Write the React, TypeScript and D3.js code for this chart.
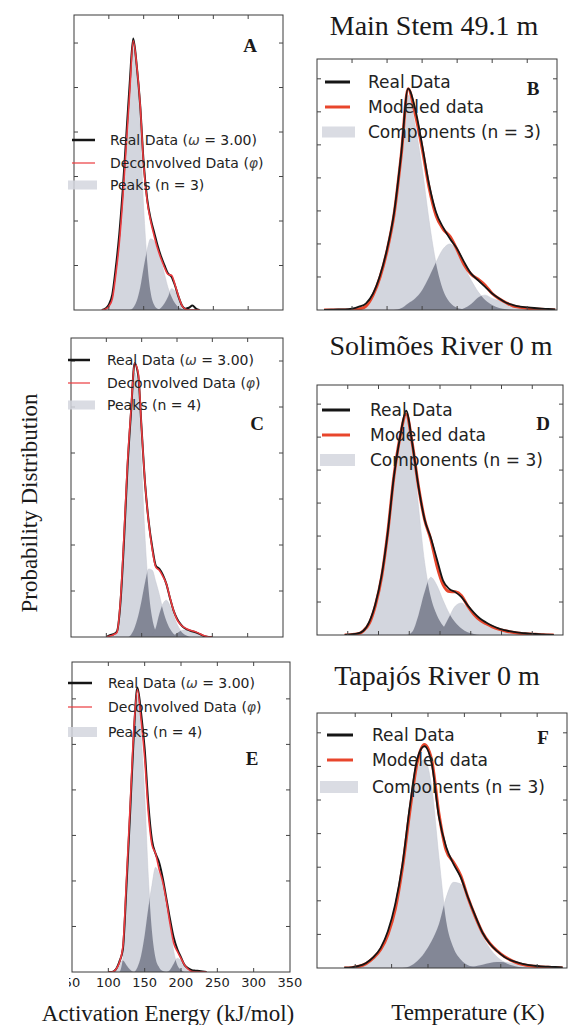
import React from "react";
import * as d3 from "d3";

// ---------------- Panel A : Main Stem 49.1 m, activation energy ----------------
const energyA = [90, 95, 100, 105, 110, 115, 120, 125, 130, 135, 140, 145, 150, 155, 160, 165, 170, 175, 180, 185, 190, 195, 200, 205, 210, 215, 220, 225, 230];
const realA = [0, 0.03, 0.12, 0.35, 0.95, 1.7, 2.7, 3.9, 5.1, 6.1, 5.5, 4.6, 3.3, 2.5, 2.05, 1.75, 1.45, 1.2, 1.0, 0.82, 0.75, 0.55, 0.3, 0.1, 0.03, 0.05, 0.1, 0.03, 0];
const peakA1 = [0, 0.02, 0.08, 0.25, 0.8, 1.5, 2.5, 3.7, 4.9, 6.0, 5.3, 4.1, 2.3, 1.1, 0.4, 0.12, 0.03, 0, 0, 0, 0, 0, 0, 0, 0, 0, 0, 0, 0];
const peakA2 = [0, 0, 0, 0, 0, 0, 0, 0, 0, 0.05, 0.2, 0.5, 0.95, 1.35, 1.6, 1.55, 1.35, 1.1, 0.8, 0.5, 0.3, 0.15, 0.06, 0.02, 0, 0, 0, 0, 0];
const peakA3 = [0, 0, 0, 0, 0, 0, 0, 0, 0, 0, 0, 0, 0, 0, 0, 0, 0, 0.05, 0.15, 0.3, 0.48, 0.42, 0.25, 0.08, 0.02, 0, 0, 0, 0];

// ---------------- Panel C : Solimões River 0 m, activation energy ----------------
const energyC = [100, 105, 110, 115, 120, 125, 130, 135, 140, 145, 150, 155, 160, 165, 170, 175, 180, 185, 190, 195, 200, 205, 210, 215, 220, 225, 230, 235, 240, 245, 250];
const realC = [0, 0.04, 0.06, 0.12, 0.75, 2.1, 3.7, 4.9, 5.95, 5.7, 4.5, 3.3, 2.5, 1.95, 1.55, 1.48, 1.35, 1.15, 0.85, 0.58, 0.4, 0.28, 0.2, 0.16, 0.13, 0.11, 0.08, 0.04, 0.01, 0, 0];
const peakC1 = [0, 0.02, 0.05, 0.1, 0.8, 2.2, 3.8, 4.9, 5.75, 5.3, 3.7, 2.1, 1.0, 0.4, 0.12, 0.03, 0, 0, 0, 0, 0, 0, 0, 0, 0, 0, 0, 0, 0, 0, 0];
const peakC2 = [0, 0, 0, 0, 0, 0, 0, 0.05, 0.2, 0.45, 0.8, 1.2, 1.48, 1.45, 1.2, 0.92, 0.6, 0.35, 0.18, 0.07, 0.02, 0, 0, 0, 0, 0, 0, 0, 0, 0, 0];
const peakC3 = [0, 0, 0, 0, 0, 0, 0, 0, 0, 0, 0, 0, 0, 0.05, 0.2, 0.5, 0.72, 0.8, 0.68, 0.48, 0.28, 0.14, 0.06, 0.02, 0, 0, 0, 0, 0, 0, 0];
const peakC4 = [0, 0, 0, 0, 0, 0, 0, 0, 0, 0, 0, 0, 0, 0, 0, 0, 0, 0, 0, 0.03, 0.08, 0.13, 0.15, 0.15, 0.14, 0.12, 0.09, 0.05, 0.02, 0, 0];

// ---------------- Panel E : Tapajós River 0 m, activation energy ----------------
const energyE = [100, 105, 110, 115, 120, 125, 130, 135, 140, 145, 150, 155, 160, 165, 170, 175, 180, 185, 190, 195, 200, 205, 210, 215, 220, 225, 230, 235];
const realE = [0, 0, 0.05, 0.22, 0.5, 1.9, 3.5, 5.2, 6.25, 5.7, 4.9, 3.7, 2.9, 2.6, 2.4, 2.05, 1.6, 1.15, 0.75, 0.5, 0.32, 0.15, 0.08, 0.04, 0.03, 0.02, 0.01, 0];
const peakE1 = [0, 0, 0, 0, 0.3, 1.9, 3.6, 5.3, 6.1, 5.2, 3.9, 2.1, 0.9, 0.3, 0.1, 0.02, 0, 0, 0, 0, 0, 0, 0, 0, 0, 0, 0, 0];
const peakE2 = [0, 0, 0, 0, 0, 0, 0, 0, 0.1, 0.35, 0.8, 1.4, 1.9, 2.3, 2.15, 1.95, 1.55, 1.0, 0.45, 0.15, 0.05, 0, 0, 0, 0, 0, 0, 0];
const peakE3 = [0, 0, 0, 0, 0, 0, 0, 0, 0, 0, 0, 0, 0, 0, 0, 0, 0, 0.05, 0.18, 0.3, 0.25, 0.15, 0.06, 0.01, 0, 0, 0, 0];
const peakE4 = [0, 0, 0.05, 0.2, 0.25, 0.15, 0.05, 0, 0, 0, 0, 0, 0, 0, 0, 0, 0, 0, 0, 0, 0, 0, 0, 0, 0, 0, 0, 0];

// ---------------- Panel B : Main Stem 49.1 m, temperature ----------------
const tempB = [420, 440, 460, 480, 500, 520, 540, 560, 580, 600, 620, 640, 660, 680, 700, 720, 740, 760, 780, 800, 820, 840, 860, 880, 900, 920, 940, 960, 980, 1000, 1020, 1040, 1060, 1080];
const realB = [0, 0.01, 0.02, 0.02, 0.04, 0.1, 0.2, 0.5, 1.05, 1.85, 2.95, 4.7, 6.7, 6.1, 5.0, 3.8, 2.95, 2.5, 2.15, 1.85, 1.45, 1.1, 0.9, 0.7, 0.5, 0.35, 0.22, 0.15, 0.1, 0.08, 0.06, 0.04, 0.03, 0.02];
const compB1 = [0, 0, 0, 0, 0.01, 0.03, 0.12, 0.45, 1.0, 1.8, 2.9, 4.6, 6.5, 5.6, 4.3, 2.7, 1.4, 0.6, 0.22, 0.07, 0.02, 0, 0, 0, 0, 0, 0, 0, 0, 0, 0, 0, 0, 0];
const compB2 = [0, 0, 0, 0, 0, 0, 0, 0, 0, 0, 0, 0.05, 0.2, 0.35, 0.6, 1.0, 1.45, 1.85, 2.0, 1.75, 1.3, 0.9, 0.55, 0.3, 0.15, 0.06, 0.02, 0, 0, 0, 0, 0, 0, 0];
const compB3 = [0, 0, 0, 0, 0, 0, 0, 0, 0, 0, 0, 0, 0, 0, 0, 0, 0, 0, 0, 0, 0.05, 0.18, 0.38, 0.45, 0.35, 0.28, 0.2, 0.12, 0.08, 0.05, 0.03, 0.02, 0.01, 0];

// ---------------- Panel D : Solimões River 0 m, temperature ----------------
const tempD = [390, 410, 430, 450, 470, 490, 510, 530, 550, 570, 590, 610, 630, 650, 670, 690, 710, 730, 750, 770, 790, 810, 830, 850, 870, 890, 910, 930, 950, 970, 990, 1010, 1030, 1050, 1070];
const realD = [0, 0.02, 0.04, 0.12, 0.4, 0.95, 1.8, 3.1, 4.8, 6.0, 6.8, 5.8, 4.5, 3.5, 2.95, 2.3, 1.65, 1.4, 1.3, 1.15, 0.9, 0.68, 0.5, 0.38, 0.28, 0.2, 0.15, 0.11, 0.08, 0.06, 0.04, 0.03, 0.02, 0.01, 0];
const compD1 = [0, 0.01, 0.03, 0.12, 0.35, 0.9, 1.75, 3.1, 4.8, 6.0, 6.7, 5.7, 3.9, 2.2, 1.15, 0.6, 0.28, 0.12, 0.05, 0.02, 0, 0, 0, 0, 0, 0, 0, 0, 0, 0, 0, 0, 0, 0, 0];
const compD2 = [0, 0, 0, 0, 0, 0, 0, 0, 0, 0, 0, 0.1, 0.6, 1.3, 1.75, 1.5, 1.05, 0.65, 0.38, 0.2, 0.08, 0.03, 0, 0, 0, 0, 0, 0, 0, 0, 0, 0, 0, 0, 0];
const compD3 = [0, 0, 0, 0, 0, 0, 0, 0, 0, 0, 0, 0, 0, 0, 0, 0, 0.2, 0.55, 0.88, 0.97, 0.8, 0.6, 0.45, 0.34, 0.25, 0.18, 0.13, 0.09, 0.06, 0.04, 0.03, 0.02, 0.01, 0, 0];

// ---------------- Panel F : Tapajós River 0 m, temperature ----------------
const tempF = [470, 490, 510, 530, 550, 570, 590, 610, 630, 650, 670, 690, 710, 730, 750, 770, 790, 810, 830, 850, 870, 890, 910, 930, 950, 970, 990, 1010, 1030, 1050, 1070];
const realF = [0.01, 0.02, 0.06, 0.15, 0.32, 0.6, 1.1, 1.9, 3.1, 4.8, 6.2, 6.6, 6.1, 4.5, 3.6, 3.1, 2.7, 2.1, 1.55, 1.05, 0.72, 0.5, 0.33, 0.22, 0.15, 0.1, 0.07, 0.05, 0.04, 0.03, 0.02];
const compF1 = [0, 0.01, 0.05, 0.13, 0.3, 0.55, 1.0, 1.75, 3.0, 4.6, 5.9, 6.2, 5.4, 3.3, 1.4, 0.6, 0.25, 0.08, 0.03, 0, 0, 0, 0, 0, 0, 0, 0, 0, 0, 0, 0];
const compF2 = [0, 0, 0, 0, 0, 0, 0, 0, 0, 0.05, 0.2, 0.45, 0.8, 1.3, 2.1, 2.55, 2.5, 2.0, 1.45, 0.95, 0.58, 0.33, 0.17, 0.08, 0.03, 0.01, 0, 0, 0, 0, 0];
const compF3 = [0, 0, 0, 0, 0, 0, 0, 0, 0, 0, 0, 0, 0, 0, 0, 0, 0, 0.01, 0.05, 0.1, 0.15, 0.18, 0.17, 0.14, 0.1, 0.07, 0.05, 0.03, 0.02, 0.01, 0];

// ---------------- Ticks and texts ----------------
const energyTicks = [100, 150, 200, 250, 300];
const energyTickLabels = [50, 100, 150, 200, 250, 300, 350];
const tempTicksB = [500, 600, 700, 800, 900, 1000];
const tempTicksD = [400, 500, 600, 700, 800, 900, 1000];
const tempTicksF = [500, 600, 700, 800, 900, 1000];
const yTicks6 = [1, 2, 3, 4, 5, 6];
const yTicks7 = [1, 2, 3, 4, 5, 6, 7];

const legendLeftA = ["Real Data (ω = 3.00)", "Deconvolved Data (φ)", "Peaks (n = 3)"];
const legendLeftC = ["Real Data (ω = 3.00)", "Deconvolved Data (φ)", "Peaks (n = 4)"];
const legendLeftE = ["Real Data (ω = 3.00)", "Deconvolved Data (φ)", "Peaks (n = 4)"];
const legendRight = ["Real Data", "Modeled data", "Components (n = 3)"];
const titles = ["Main Stem 49.1 m", "Solimões River 0 m", "Tapajós River 0 m"];

const LIGHT = "#d3d6de";
const DARK = "#838796";
const BLACK = "#151515";
const SANS = "'DejaVu Sans', Verdana, sans-serif";
const SERIF = "'Liberation Serif', 'Times New Roman', serif";

type Box = { l: number; r: number; t: number; b: number };
type Leg = {
  labels: string[];
  lineX: [number, number];
  patchX: [number, number];
  patchH: number;
  textX: number;
  rows: number[];
  fontSize: number;
};

function GreekText({ s }: { s: string }) {
  const parts = s.split(/([ωφ])/);
  return (
    <>
      {parts.map((p, i) =>
        p === "ω" || p === "φ" ? (
          <tspan key={i} fontStyle="italic" fill="#444">
            {p}
          </tspan>
        ) : (
          <tspan key={i}>{p}</tspan>
        )
      )}
    </>
  );
}

function Panel(props: {
  id: string;
  box: Box;
  xDomain: [number, number];
  yTop: number;
  xTicks: number[];
  yTicks: number[];
  xs: number[];
  real: number[];
  comps: number[][];
  thick: boolean;
  legend: Leg;
  letter: { text: string; x: number; y: number };
  tickLabels?: number[];
}) {
  const { id, box, xDomain, yTop, xTicks, yTicks, xs, real, comps, thick, legend, letter, tickLabels } = props;
  const x = d3.scaleLinear().domain(xDomain).range([box.l, box.r]);
  const y = d3.scaleLinear().domain([0, yTop]).range([box.b, box.t]);
  type P = [number, number];
  const toPts = (vals: number[]): P[] => xs.map((v, i) => [v, vals[i]] as P);
  const area = d3
    .area<P>()
    .x((d) => x(d[0]))
    .y0(y(0))
    .y1((d) => y(d[1]))
    .curve(d3.curveMonotoneX);
  const line = d3
    .line<P>()
    .x((d) => x(d[0]))
    .y((d) => y(d[1]))
    .curve(d3.curveMonotoneX);
  const model: P[] = xs.map((v, i) => [v, d3.sum(comps, (c) => c[i])] as P);
  const pairs: [number, number][] = [];
  comps.forEach((_, i) => comps.forEach((__, j) => { if (j > i) pairs.push([i, j]); }));
  const tl = 4;
  const red = thick ? "#e8462c" : "#ec3b3f";

  const realPath = <path d={line(toPts(real)) || ""} fill="none" stroke={BLACK} strokeWidth={thick ? 1.8 : 2} strokeLinejoin="round" />;
  const modelPath = <path d={line(model) || ""} fill="none" stroke={red} strokeWidth={thick ? 3 : 1.6} strokeLinejoin="round" />;

  return (
    <g>
      <defs>
        <clipPath id={`plot-${id}`}>
          <rect x={box.l} y={box.t} width={box.r - box.l} height={box.b - box.t} />
        </clipPath>
        {comps.map((c, i) => (
          <clipPath id={`comp-${id}-${i}`} key={i}>
            <path d={area(toPts(c)) || ""} />
          </clipPath>
        ))}
      </defs>
      <g clipPath={`url(#plot-${id})`}>
        {comps.map((c, i) => (
          <path key={`c${i}`} d={area(toPts(c)) || ""} fill={LIGHT} stroke="#c4c7d0" strokeWidth={0.5} />
        ))}
        {pairs.map(([i, j]) => (
          <path key={`o${i}-${j}`} d={area(toPts(comps[j])) || ""} fill={DARK} clipPath={`url(#comp-${id}-${i})`} />
        ))}
        {thick ? (
          <>
            {modelPath}
            {realPath}
          </>
        ) : (
          <>
            {realPath}
            {modelPath}
          </>
        )}
      </g>
      <rect x={box.l} y={box.t} width={box.r - box.l} height={box.b - box.t} fill="none" stroke="#3a3a3a" strokeWidth={1} />
      {xTicks.map((t) => (
        <g key={`xt${t}`} stroke="#444" strokeWidth={1}>
          <line x1={x(t)} x2={x(t)} y1={box.t} y2={box.t + tl} />
          <line x1={x(t)} x2={x(t)} y1={box.b} y2={box.b - tl} />
        </g>
      ))}
      {yTicks.map((t) => (
        <g key={`yt${t}`} stroke="#444" strokeWidth={1}>
          <line x1={box.l} x2={box.l + tl} y1={y(t)} y2={y(t)} />
          <line x1={box.r} x2={box.r - tl} y1={y(t)} y2={y(t)} />
        </g>
      ))}
      {tickLabels && (
        <>
          <defs>
            <clipPath id={`tl-${id}`}>
              <rect x={box.l - 3} y={box.b} width={300} height={30} />
            </clipPath>
          </defs>
          <g clipPath={`url(#tl-${id})`}>
            {tickLabels.map((t) => (
              <text key={`tl${t}`} x={x(t)} y={box.b + 15} textAnchor="middle" fontFamily={SANS} fontSize={13} fill="#222">
                {t}
              </text>
            ))}
          </g>
        </>
      )}
      {/* legend */}
      <line x1={legend.lineX[0]} x2={legend.lineX[1]} y1={legend.rows[0]} y2={legend.rows[0]} stroke={BLACK} strokeWidth={thick ? 3 : 2.5} />
      <line x1={legend.lineX[0]} x2={legend.lineX[1]} y1={legend.rows[1]} y2={legend.rows[1]} stroke={red} strokeWidth={thick ? 3 : 1.5} opacity={thick ? 1 : 0.8} />
      <rect
        x={legend.patchX[0]}
        y={legend.rows[2] - legend.patchH / 2}
        width={legend.patchX[1] - legend.patchX[0]}
        height={legend.patchH}
        fill={LIGHT}
        opacity={0.85}
      />
      {legend.labels.map((s, i) => (
        <text key={`lg${i}`} x={legend.textX} y={legend.rows[i]} dy="0.36em" fontFamily={SANS} fontSize={legend.fontSize} fill="#222">
          <GreekText s={s} />
        </text>
      ))}
      <text x={letter.x} y={letter.y} dy="0.35em" textAnchor="middle" fontFamily={SERIF} fontWeight="bold" fontSize={19} fill="#1a1a1a">
        {letter.text}
      </text>
    </g>
  );
}

export default function App() {
  const W = 568;
  const H = 1025;
  return (
    <svg width={W} height={H} style={{ position: "absolute", left: 0, top: 0, background: "#fff" }}>
      <rect x={0} y={0} width={W} height={H} fill="#fff" />
      {/* Titles */}
      <text x={434} y={35} textAnchor="middle" fontFamily={SERIF} fontSize={28} fill="#1a1a1a">{titles[0]}</text>
      <text x={441} y={355} textAnchor="middle" fontFamily={SERIF} fontSize={28} fill="#1a1a1a">{titles[1]}</text>
      <text x={437} y={685} textAnchor="middle" fontFamily={SERIF} fontSize={28} fill="#1a1a1a">{titles[2]}</text>

      <Panel
        id="A"
        box={{ l: 74, r: 283, t: 15, b: 310 }}
        xDomain={[50, 350]}
        yTop={6.63}
        xTicks={energyTicks}
        yTicks={yTicks6}
        xs={energyA}
        real={realA}
        comps={[peakA1, peakA2, peakA3]}
        thick={false}
        legend={{ labels: legendLeftA, lineX: [72, 95], patchX: [68, 97], patchH: 9, textX: 110, rows: [140, 163, 185], fontSize: 14 }}
        letter={{ text: "A", x: 250, y: 45 }}
      />
      <Panel
        id="B"
        box={{ l: 317, r: 557, t: 59, b: 310 }}
        xDomain={[400, 1085]}
        yTop={7.6}
        xTicks={tempTicksB}
        yTicks={yTicks7}
        xs={tempB}
        real={realB}
        comps={[compB1, compB2, compB3]}
        thick={true}
        legend={{ labels: legendRight, lineX: [325, 350], patchX: [322, 355], patchH: 11, textX: 368, rows: [82, 107, 132], fontSize: 17 }}
        letter={{ text: "B", x: 533, y: 88 }}
      />
      <Panel
        id="C"
        box={{ l: 71, r: 283, t: 338, b: 637 }}
        xDomain={[50, 350]}
        yTop={6.5}
        xTicks={energyTicks}
        yTicks={yTicks6}
        xs={energyC}
        real={realC}
        comps={[peakC1, peakC2, peakC3, peakC4]}
        thick={false}
        legend={{ labels: legendLeftC, lineX: [68, 90], patchX: [68, 95], patchH: 9, textX: 107, rows: [360, 383, 405], fontSize: 14 }}
        letter={{ text: "C", x: 257, y: 423 }}
      />
      <Panel
        id="D"
        box={{ l: 317, r: 563, t: 385, b: 635 }}
        xDomain={[300, 1100]}
        yTop={7.58}
        xTicks={tempTicksD}
        yTicks={yTicks7}
        xs={tempD}
        real={realD}
        comps={[compD1, compD2, compD3]}
        thick={true}
        legend={{ labels: legendRight, lineX: [322, 350], patchX: [320, 355], patchH: 12, textX: 370, rows: [410, 435, 460], fontSize: 17 }}
        letter={{ text: "D", x: 543, y: 423 }}
      />
      <Panel
        id="E"
        box={{ l: 72, r: 290, t: 662, b: 972 }}
        xDomain={[50, 350]}
        yTop={6.81}
        xTicks={energyTicks}
        yTicks={yTicks6}
        xs={energyE}
        real={realE}
        comps={[peakE1, peakE2, peakE3, peakE4]}
        thick={false}
        legend={{ labels: legendLeftE, lineX: [68, 92], patchX: [68, 97], patchH: 10, textX: 108, rows: [683, 707, 732], fontSize: 14 }}
        letter={{ text: "E", x: 252, y: 758 }}
        tickLabels={energyTickLabels}
      />
      <Panel
        id="F"
        box={{ l: 317, r: 567, t: 713, b: 968 }}
        xDomain={[395, 1082]}
        yTop={7.59}
        xTicks={tempTicksF}
        yTicks={yTicks7}
        xs={tempF}
        real={realF}
        comps={[compF1, compF2, compF3]}
        thick={true}
        legend={{ labels: legendRight, lineX: [327, 353], patchX: [320, 358], patchH: 12, textX: 372, rows: [735, 760, 787], fontSize: 17 }}
        letter={{ text: "F", x: 543, y: 737 }}
      />

      {/* Axis titles */}
      <text transform="translate(37,503) rotate(-90)" textAnchor="middle" fontFamily={SERIF} fontSize={23} fill="#1a1a1a">
        Probability Distribution
      </text>
      <text x={168} y={1021} textAnchor="middle" fontFamily={SERIF} fontSize={23} fill="#1a1a1a">
        Activation Energy (kJ/mol)
      </text>
      <text x={468} y={1020} textAnchor="middle" fontFamily={SERIF} fontSize={23} fill="#1a1a1a">
        Temperature (K)
      </text>
    </svg>
  );
}
